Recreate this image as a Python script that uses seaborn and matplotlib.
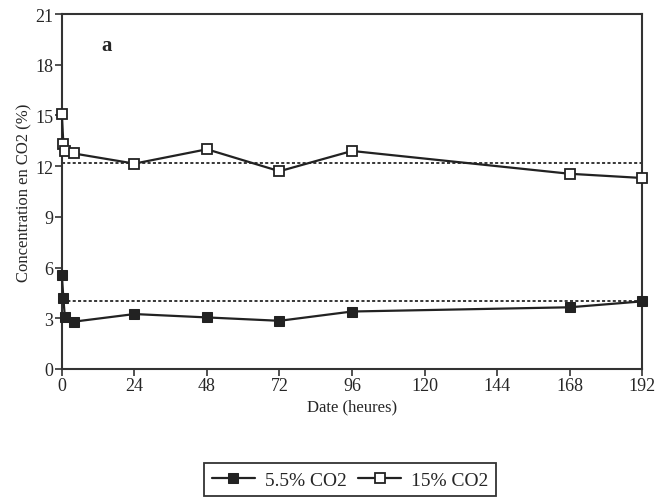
import matplotlib
matplotlib.use("Agg")
import matplotlib.pyplot as plt
import seaborn as sns
import pandas as pd

# sampling times (hours)
hours = [0, 0.5, 1, 4, 24, 48, 72, 96, 168, 192]
# CO2 concentrations (%)
co2_low = [5.55, 4.2, 3.05, 2.8, 3.25, 3.05, 2.85, 3.4, 3.65, 4.0]
co2_high = [15.1, 13.3, 12.9, 12.75, 12.15, 13.0, 11.7, 12.9, 11.55, 11.3]
# dotted reference levels
ref_low = 4.0
ref_high = 12.2
labels = ["5.5% CO2", "15% CO2"]

sns.set_style("ticks")
plt.rcParams["font.family"] = ["Liberation Serif", "DejaVu Serif"]

fig = plt.figure(figsize=(6.58, 5.02), dpi=100)
ax = fig.add_axes([0.094, 0.263, 0.882, 0.707])

df_low = pd.DataFrame({"h": hours, "c": co2_low})
df_high = pd.DataFrame({"h": hours, "c": co2_high})

# dotted target lines
ax.hlines([ref_high, ref_low], 0, 192, colors="black", linestyles=(0, (2, 1.5)), linewidth=1.1)

sns.lineplot(data=df_low, x="h", y="c", ax=ax, color="#222222", linewidth=1.6,
             marker="s", markersize=6.5, markerfacecolor="#222222",
             markeredgecolor="#222222", label=labels[0], legend=False,
             clip_on=False, zorder=3)
sns.lineplot(data=df_high, x="h", y="c", ax=ax, color="#222222", linewidth=1.6,
             marker="s", markersize=6.5, markerfacecolor="white",
             markeredgecolor="#222222", markeredgewidth=1.3,
             label=labels[1], legend=False, clip_on=False, zorder=3)

ax.set_xlim(0, 192)
ax.set_ylim(0, 21)
ax.set_xticks([0, 24, 48, 72, 96, 120, 144, 168, 192])
ax.set_yticks([0, 3, 6, 9, 12, 15, 18, 21])
ax.tick_params(labelsize=13, length=5, width=1.2, color="#333333", pad=1)
for s in ax.spines.values():
    s.set_visible(True)
    s.set_linewidth(1.5)
    s.set_color("#333333")

ax.set_xlabel("Date (heures)", fontsize=12, labelpad=3)
ax.set_ylabel("Concentration en CO2 (%)", fontsize=12, labelpad=2)
ax.text(13, 18.9, "a", fontsize=15, fontweight="bold")

handles, lbls = ax.get_legend_handles_labels()
leg = fig.legend(handles, lbls, loc="center", bbox_to_anchor=(0.532, 0.042),
                 ncol=2, fontsize=14, frameon=True, fancybox=False,
                 handlelength=2.2, handletextpad=0.5, columnspacing=0.6,
                 borderpad=0.4)
leg.get_frame().set_edgecolor("black")
leg.get_frame().set_linewidth(1.3)

fig.savefig("out.png", dpi=100)
